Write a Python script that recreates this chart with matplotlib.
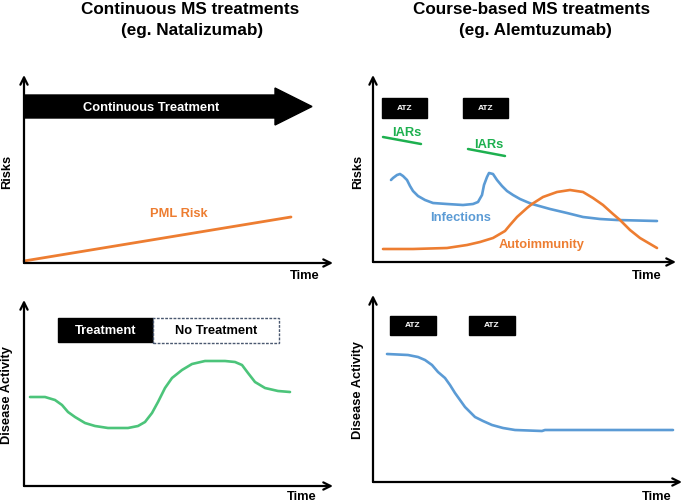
"""Schematic: continuous vs course-based MS treatments
"""
import matplotlib
matplotlib.use('Agg')
import matplotlib.pyplot as plt
from matplotlib.patches import FancyArrow, Rectangle

plt.rcParams['font.family'] = ['Liberation Sans', 'DejaVu Sans']
plt.rcParams['font.weight'] = 'bold'
plt.rcParams['lines.solid_joinstyle'] = 'round'
plt.rcParams['lines.solid_capstyle'] = 'round'

ORANGE = '#ED7D31'
BLUE = '#5B9BD5'
GREEN = '#4CC47A'
IAR_GREEN = '#1DB04F'
FS = 9.3

# panel (a): continuous treatment, PML risk
pml_time = [0, 267]
pml_risk = [2, 46]

# panel (b): course-based, infections and autoimmunity
inf_time = [18, 20, 24, 27, 30, 34, 37, 40, 45, 52, 60, 74, 90, 100, 105,
            109, 111, 114, 116, 120, 124, 129, 134, 140, 147, 154, 159, 177,
            194, 210, 227, 244, 284]
inf_risk = [82, 84, 87, 88, 86, 82, 76, 71, 66, 62, 59, 58, 57, 58, 60,
            67, 77, 85, 89, 88, 82, 76, 71, 67, 63, 60, 58, 53,
            49, 45, 43, 42, 41]
auto_time = [10, 40, 74, 94, 107, 120, 132, 137, 144, 154, 159, 170, 184,
             197, 210, 220, 230, 240, 247, 257, 267, 284]
auto_risk = [13, 13, 14, 17, 20, 24, 31, 37, 45, 54, 58, 65, 70,
             72, 70, 64, 57, 48, 42, 32, 24, 14]
atz_top = [(9, 54), (90, 135)]          # ATZ courses (start, end)
iar_segments = [((10, 48), (125, 118)), ((95, 132), (113, 106))]

# panel (c): disease activity, treatment then stop
dis_time = [6, 21, 31, 38, 44, 51, 61, 71, 84, 104, 114, 121, 128, 134, 141,
            148, 158, 168, 181, 201, 211, 218, 224, 231, 241, 254, 266]
dis_act = [89, 89, 86, 81, 74, 69, 63, 60, 58, 58, 60, 64, 73, 84, 98,
           108, 116, 122, 125, 125, 124, 121, 113, 104, 98, 95, 94]
treat_span = (34, 129)
no_treat_span = (129, 255)

# panel (d): disease activity after alemtuzumab
atz_time = [14, 35, 45, 52, 59, 65, 72, 77, 82, 87, 92, 97, 102, 110, 119,
            130, 142, 169, 172, 300]
atz_act = [128, 127, 125, 122, 117, 110, 104, 97, 89, 82, 75, 70, 65, 61,
           57, 54, 52, 51, 52, 52]
atz_bottom = [(17, 63), (96, 142)]

W, H = 685, 503
fig = plt.figure(figsize=(6.85, 5.03), dpi=100)


def make_axes(x0, y0, w, h, ylabel, time_xy, ylab_xy):
    ax = fig.add_axes([x0 / W, 1 - y0 / H, w / W, h / H])
    ax.set_xlim(0, w)
    ax.set_ylim(0, h)
    ax.axis('off')
    arrow = dict(arrowstyle='->', lw=1.6, color='black', shrinkA=0,
                 shrinkB=0, mutation_scale=13)
    ax.annotate('', xy=(1, 0), xytext=(0, 0), xycoords='axes fraction',
                arrowprops=arrow, annotation_clip=False)
    ax.annotate('', xy=(0, 1), xytext=(0, 0), xycoords='axes fraction',
                arrowprops=arrow, annotation_clip=False)
    ax.text(*time_xy, 'Time', ha='center', va='center', fontsize=FS,
            clip_on=False)
    ax.text(*ylab_xy, ylabel, ha='center', va='center', rotation=90,
            fontsize=FS, clip_on=False)
    return ax


# titles
fig.text(190 / W, 1 - 10 / H, 'Continuous MS treatments', ha='center',
         va='center', fontsize=12.3)
fig.text(192 / W, 1 - 30 / H, '(eg. Natalizumab)', ha='center',
         va='center', fontsize=12.3)
fig.text(532 / W, 1 - 9 / H, 'Course-based MS treatments', ha='center',
         va='center', fontsize=12.3)
fig.text(535 / W, 1 - 30 / H, '(eg. Alemtuzumab)', ha='center',
         va='center', fontsize=12.3)

# (a)
ax1 = make_axes(24, 263, 309, 188, 'Risks', (281, -13), (-17, 91))
ax1.add_patch(FancyArrow(0, 156.5, 288, 0, width=23, head_width=37,
                         head_length=37, length_includes_head=True,
                         color='black', clip_on=False))
ax1.text(127, 155, 'Continuous Treatment', color='white', ha='center',
         va='center', fontsize=FS)
ax1.plot(pml_time, pml_risk, color=ORANGE, lw=2, clip_on=False)
ax1.text(155, 49, 'PML Risk', color=ORANGE, ha='center', va='center',
         fontsize=FS)

# (b)
ax2 = make_axes(373, 262, 303, 187, 'Risks', (274, -14), (-15, 90))
for a, b in atz_top:
    ax2.add_patch(Rectangle((a, 144), b - a, 20, color='black'))
    ax2.text((a + b) / 2, 154, 'ATZ', color='white', ha='center',
             va='center', fontsize=6)
for (xs, ys), tx in zip(iar_segments, [(34, 129), (116, 117)]):
    ax2.plot(xs, ys, color=IAR_GREEN, lw=1.8)
    ax2.text(*tx, 'IARs', color=IAR_GREEN, ha='center', va='center',
             fontsize=FS)
ax2.plot(inf_time, inf_risk, color=BLUE, lw=1.9)
ax2.plot(auto_time, auto_risk, color=ORANGE, lw=1.9)
ax2.text(88, 44, 'Infections', color=BLUE, ha='center', va='center',
         fontsize=FS)
ax2.text(169, 17, 'Autoimmunity', color=ORANGE, ha='center', va='center',
         fontsize=FS)

# (c)
ax3 = make_axes(24, 486, 309, 186, 'Disease Activity', (278, -11), (-17, 91))
ax3.add_patch(Rectangle((treat_span[0], 144), treat_span[1] - treat_span[0],
                        24, color='black'))
ax3.add_patch(Rectangle((no_treat_span[0], 143),
                        no_treat_span[1] - no_treat_span[0], 25,
                        facecolor='white', edgecolor='#4a5870', lw=1,
                        linestyle=(0, (2, 1))))
ax3.text(sum(treat_span) / 2, 155.5, 'Treatment', color='white',
         ha='center', va='center', fontsize=FS)
ax3.text(sum(no_treat_span) / 2, 155, 'No Treatment', color='black',
         ha='center', va='center', fontsize=FS)
ax3.plot(dis_time, dis_act, color=GREEN, lw=1.9)

# (d)
ax4 = make_axes(373, 482, 309, 187, 'Disease Activity', (284, -15), (-15, 92))
for a, b in atz_bottom:
    ax4.add_patch(Rectangle((a, 147), b - a, 19, color='black'))
    ax4.text((a + b) / 2, 156.5, 'ATZ', color='white', ha='center',
             va='center', fontsize=6)
ax4.plot(atz_time, atz_act, color=BLUE, lw=1.9)

fig.savefig('out.png', dpi=100)
